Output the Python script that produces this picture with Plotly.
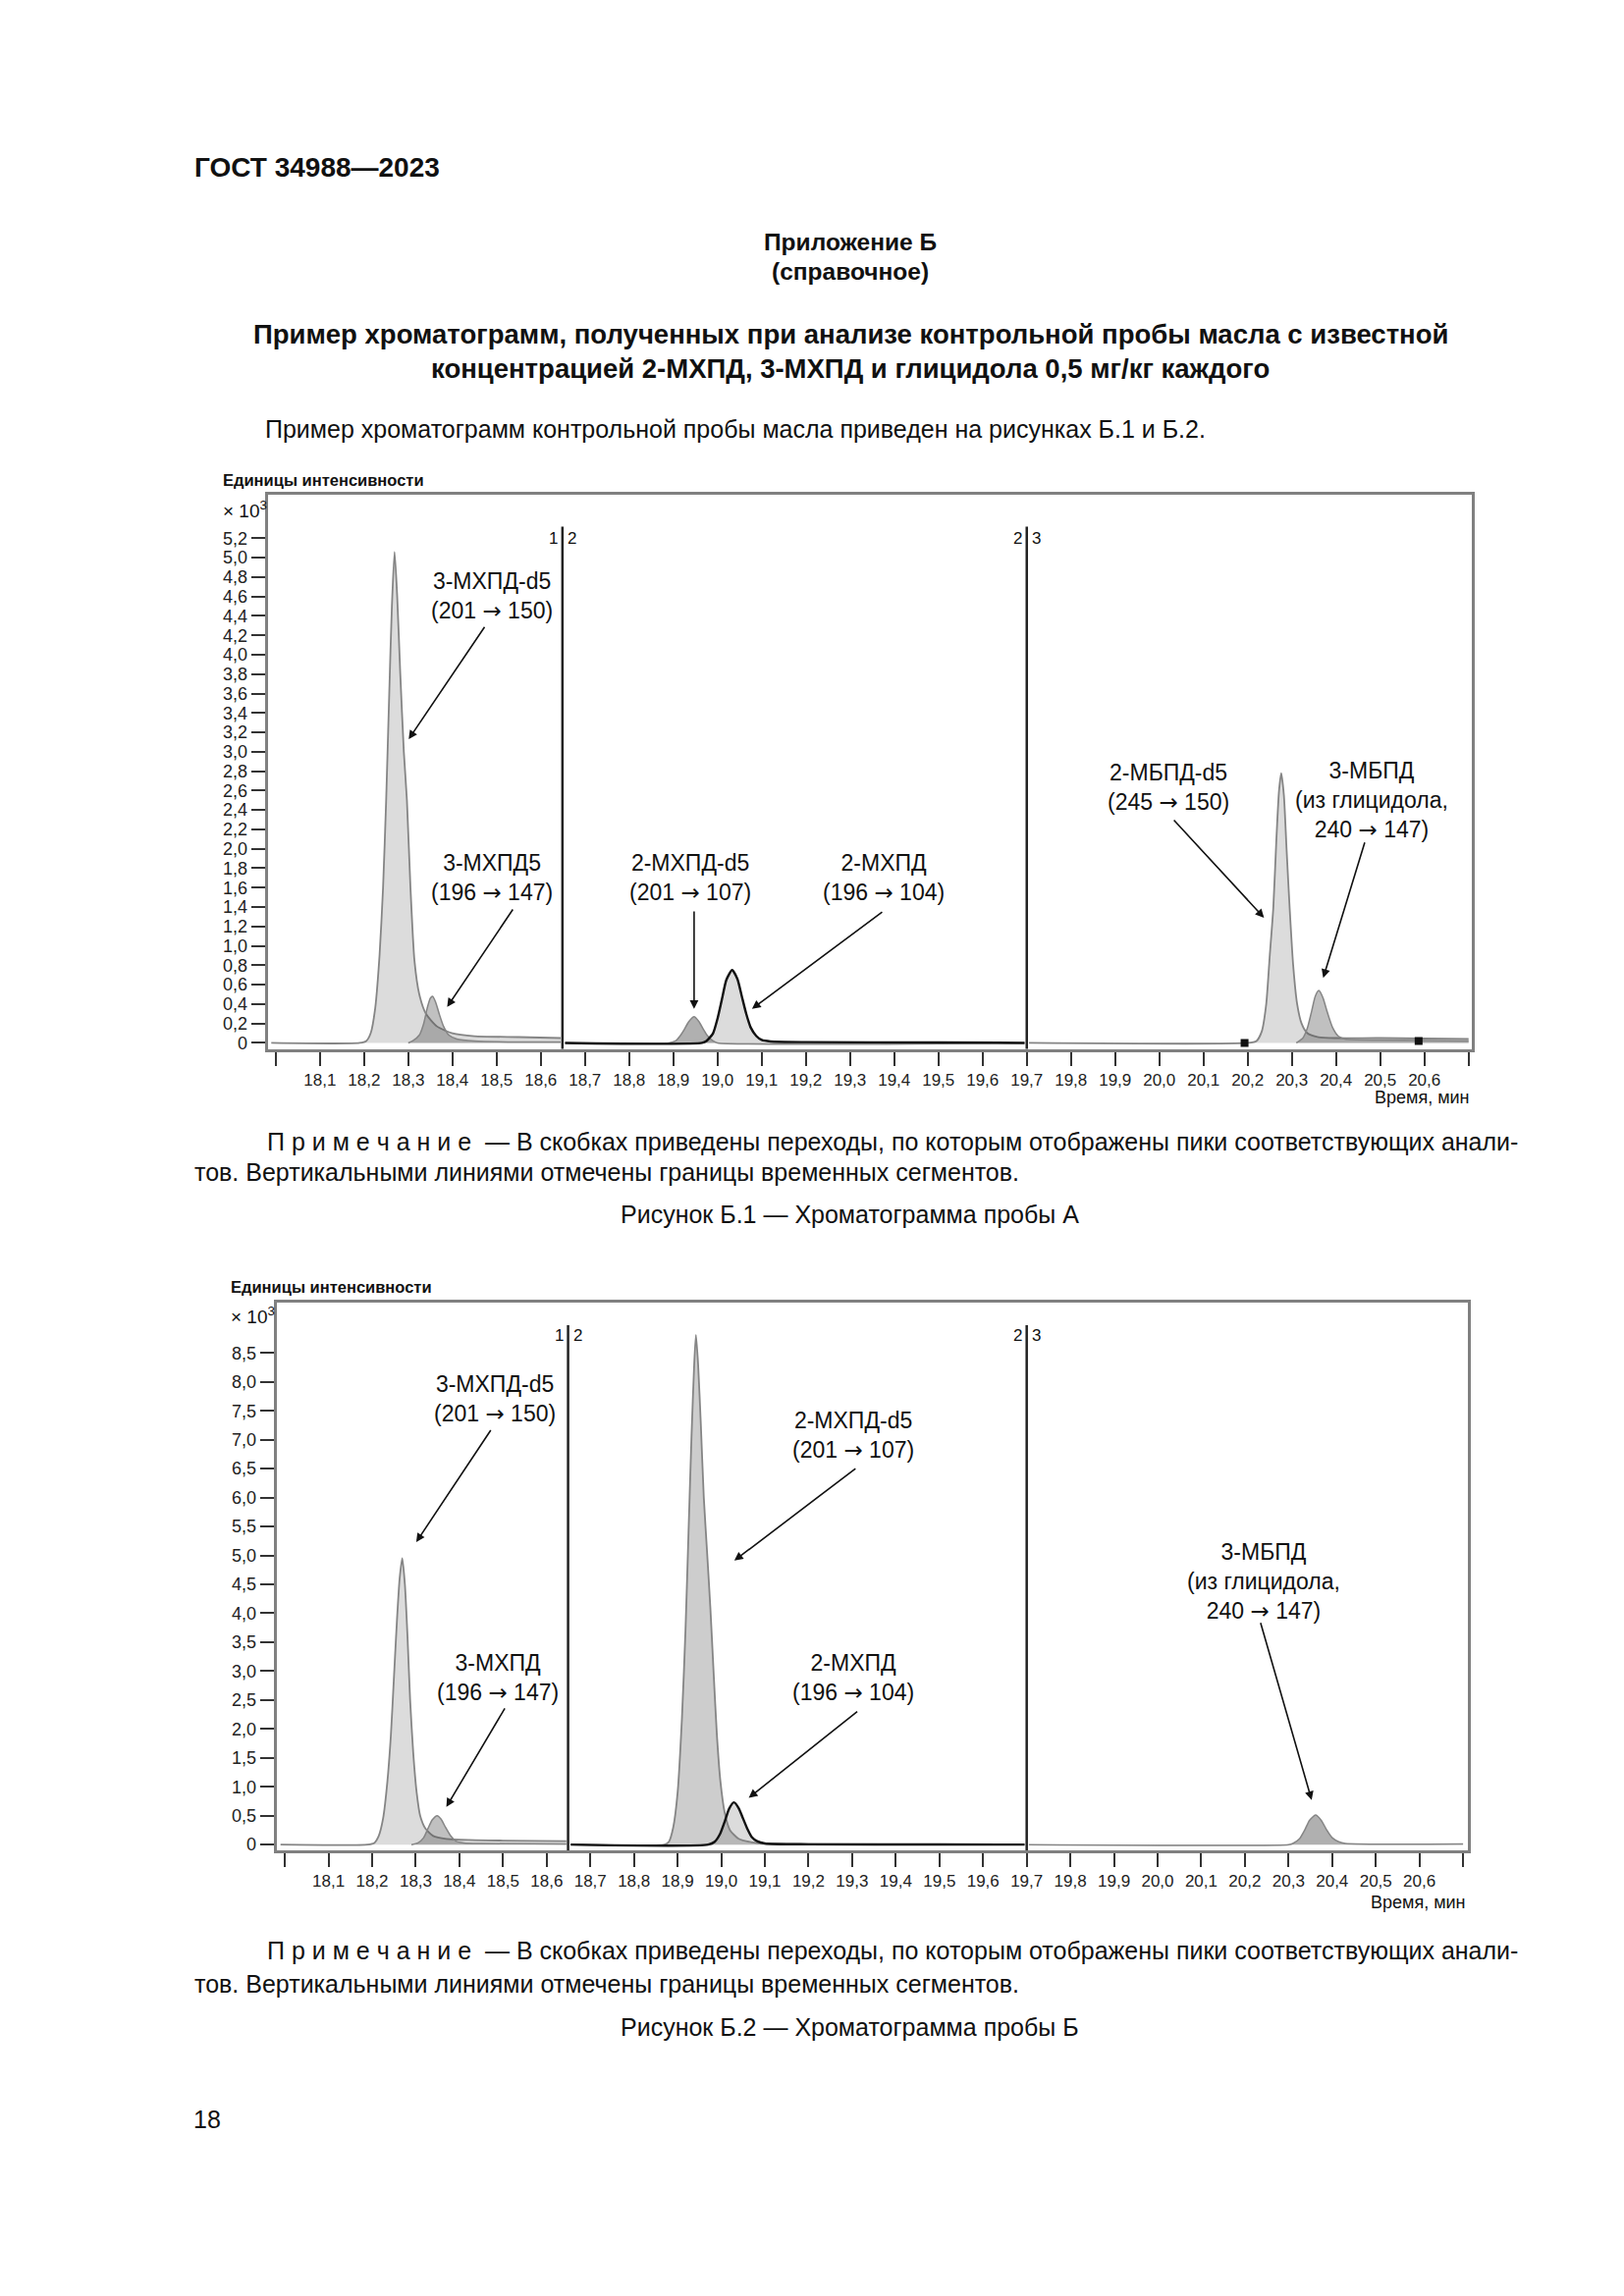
import plotly.graph_objects as go

# ---------------- DATA ----------------
# Figure B.1 (sample A) - retention time, min / intensity, x10^3
tA_3mcpd_d5 = [17.99, 18.19, 18.205, 18.215, 18.225, 18.235, 18.243, 18.250, 18.257, 18.263, 18.269,
               18.275, 18.282, 18.290, 18.297, 18.305, 18.314, 18.325, 18.340, 18.365, 18.40, 18.45, 18.55, 18.645]
iA_3mcpd_d5 = [0.0, 0.0, 0.02, 0.10, 0.35, 0.90, 1.60, 2.50, 3.60, 4.50, 5.06,
               4.60, 3.80, 3.00, 2.50, 1.60, 0.85, 0.50, 0.30, 0.17, 0.10, 0.07, 0.06, 0.05]
tA_3mcpd = [18.30, 18.31, 18.325, 18.335, 18.343, 18.350, 18.355, 18.362, 18.370, 18.380, 18.392, 18.41, 18.45, 18.55, 18.645]
iA_3mcpd = [0.0, 0.02, 0.08, 0.20, 0.36, 0.46, 0.48, 0.42, 0.30, 0.17, 0.08, 0.04, 0.02, 0.01, 0.01]
tA_2mcpd_d5 = [18.655, 18.89, 18.905, 18.915, 18.925, 18.935, 18.947, 18.958, 18.968, 18.978, 18.99, 19.00, 19.695]
iA_2mcpd_d5 = [0.0, 0.0, 0.02, 0.07, 0.14, 0.22, 0.27, 0.22, 0.14, 0.07, 0.02, 0.0, 0.0]
tA_2mcpd = [18.655, 18.965, 18.975, 18.990, 19.000, 19.010, 19.020, 19.033, 19.045, 19.055, 19.065,
            19.075, 19.088, 19.10, 19.12, 19.20, 19.50, 19.695]
iA_2mcpd = [0.0, 0.0, 0.02, 0.10, 0.25, 0.45, 0.65, 0.75, 0.66, 0.48, 0.30,
            0.16, 0.07, 0.03, 0.015, 0.008, 0.005, 0.0]
tA_2mbpd_d5 = [19.705, 20.20, 20.22, 20.232, 20.242, 20.250, 20.258, 20.265, 20.271, 20.276, 20.282,
               20.288, 20.295, 20.303, 20.312, 20.322, 20.335, 20.36, 20.40, 20.50, 20.70]
iA_2mbpd_d5 = [0.0, 0.0, 0.02, 0.12, 0.40, 0.90, 1.39, 2.10, 2.60, 2.78, 2.55,
               2.00, 1.39, 0.80, 0.40, 0.20, 0.10, 0.06, 0.05, 0.05, 0.04]
tA_3mbpd = [20.31, 20.325, 20.335, 20.345, 20.353, 20.361, 20.370, 20.380, 20.392, 20.405, 20.42, 20.50, 20.70]
iA_3mbpd = [0.0, 0.05, 0.15, 0.33, 0.48, 0.54, 0.47, 0.32, 0.16, 0.07, 0.04, 0.03, 0.02]
tA_marks = [20.193, 20.587]
iA_marks = [0.0, 0.02]

# Figure B.2 (sample B)
tB_3mcpd_d5 = [17.99, 18.19, 18.205, 18.215, 18.225, 18.235, 18.243, 18.250, 18.257, 18.263, 18.269,
               18.275, 18.281, 18.287, 18.294, 18.302, 18.310, 18.322, 18.340, 18.37, 18.42, 18.50, 18.645]
iB_3mcpd_d5 = [0.0, 0.0, 0.03, 0.15, 0.45, 1.10, 1.90, 2.90, 3.90, 4.60, 4.95,
               4.50, 3.60, 2.50, 1.60, 0.90, 0.50, 0.28, 0.15, 0.10, 0.08, 0.07, 0.06]
tB_3mcpd = [18.29, 18.305, 18.318, 18.328, 18.338, 18.349, 18.358, 18.368, 18.380, 18.392, 18.41, 18.45, 18.645]
iB_3mcpd = [0.0, 0.03, 0.12, 0.28, 0.43, 0.50, 0.44, 0.30, 0.15, 0.06, 0.03, 0.02, 0.01]
tB_2mcpd_d5 = [18.655, 18.87, 18.88, 18.89, 18.90, 18.91, 18.918, 18.925, 18.932, 18.938, 18.942,
               18.947, 18.953, 18.960, 18.968, 18.975, 18.983, 18.990, 18.998, 19.008, 19.02,
               19.04, 19.07, 19.10, 19.695]
iB_2mcpd_d5 = [0.0, 0.0, 0.05, 0.30, 0.90, 2.20, 3.70, 5.40, 7.10, 8.30, 8.81,
               8.30, 7.30, 6.00, 5.00, 4.10, 2.90, 1.90, 1.10, 0.55, 0.25,
               0.10, 0.04, 0.02, 0.0]
tB_2mcpd = [18.655, 18.97, 18.985, 18.997, 19.008, 19.018, 19.029, 19.040, 19.050, 19.060, 19.070,
            19.082, 19.10, 19.20, 19.50, 19.695]
iB_2mcpd = [0.0, 0.0, 0.05, 0.18, 0.40, 0.62, 0.73, 0.63, 0.45, 0.27, 0.13,
            0.06, 0.02, 0.005, 0.004, 0.0]
tB_3mbpd = [19.705, 20.30, 20.31, 20.325, 20.337, 20.348, 20.362, 20.375, 20.387, 20.40, 20.415, 20.43, 20.70]
iB_3mbpd = [0.0, 0.0, 0.02, 0.10, 0.25, 0.42, 0.51, 0.42, 0.26, 0.12, 0.05, 0.02, 0.01]

segment_bounds = [18.649, 19.70]
x_tick_vals = [18.0, 18.1, 18.2, 18.3, 18.4, 18.5, 18.6, 18.7, 18.8, 18.9, 19.0, 19.1, 19.2, 19.3,
               19.4, 19.5, 19.6, 19.7, 19.8, 19.9, 20.0, 20.1, 20.2, 20.3, 20.4, 20.5, 20.6, 20.7]
x_tick_text = ["", "18,1", "18,2", "18,3", "18,4", "18,5", "18,6", "18,7", "18,8", "18,9", "19,0",
               "19,1", "19,2", "19,3", "19,4", "19,5", "19,6", "19,7", "19,8", "19,9", "20,0",
               "20,1", "20,2", "20,3", "20,4", "20,5", "20,6", ""]
yA_tick_vals = [0.0, 0.2, 0.4, 0.6, 0.8, 1.0, 1.2, 1.4, 1.6, 1.8, 2.0, 2.2, 2.4, 2.6,
                2.8, 3.0, 3.2, 3.4, 3.6, 3.8, 4.0, 4.2, 4.4, 4.6, 4.8, 5.0, 5.2]
yA_tick_text = ["0", "0,2", "0,4", "0,6", "0,8", "1,0", "1,2", "1,4", "1,6", "1,8", "2,0", "2,2",
                "2,4", "2,6", "2,8", "3,0", "3,2", "3,4", "3,6", "3,8", "4,0", "4,2", "4,4",
                "4,6", "4,8", "5,0", "5,2"]
yB_tick_vals = [0.0, 0.5, 1.0, 1.5, 2.0, 2.5, 3.0, 3.5, 4.0, 4.5, 5.0, 5.5, 6.0, 6.5, 7.0, 7.5, 8.0, 8.5]
yB_tick_text = ["0", "0,5", "1,0", "1,5", "2,0", "2,5", "3,0", "3,5", "4,0", "4,5", "5,0", "5,5",
                "6,0", "6,5", "7,0", "7,5", "8,0", "8,5"]

# ---------------- LAYOUT HELPERS ----------------
W, H = 1654, 2339
OFF = 8                      # default body margin of the page
FW, FH = W - 2 * OFF, H - 2 * OFF
FONT = "Liberation Sans, Arial, sans-serif"
ARR = '<span style="font-family:DejaVu Sans">→</span>'


def fx(px):
    return (px - OFF) / FW


def fy(py):
    return 1 - (py - OFF) / FH


fig = go.Figure()

LIGHT = "rgba(128,128,128,0.28)"
MID = "rgba(80,80,80,0.36)"
MID2 = "rgba(80,80,80,0.45)"
EDGE = "#858585"


def peak(t, i, fill, line_color, lw, ax):
    fig.add_trace(go.Scatter(
        x=t, y=i, mode="lines", line=dict(color=line_color, width=lw, shape="spline", smoothing=0.6),
        fill="tozeroy", fillcolor=fill, xaxis=ax[0], yaxis=ax[1], showlegend=False, hoverinfo="skip"))


A = ("x", "y")
B = ("x2", "y2")
peak(tA_3mcpd_d5, iA_3mcpd_d5, LIGHT, EDGE, 1.8, A)
peak(tA_3mcpd, iA_3mcpd, MID, EDGE, 1.5, A)
peak(tA_2mcpd_d5, iA_2mcpd_d5, MID2, EDGE, 1.5, A)
peak(tA_2mcpd, iA_2mcpd, LIGHT, "#111111", 2.4, A)
peak(tA_2mbpd_d5, iA_2mbpd_d5, LIGHT, EDGE, 1.8, A)
peak(tA_3mbpd, iA_3mbpd, MID, EDGE, 1.5, A)
fig.add_trace(go.Scatter(x=tA_marks, y=iA_marks, mode="markers",
                         marker=dict(symbol="square", size=8, color="#111111"),
                         xaxis="x", yaxis="y", showlegend=False, hoverinfo="skip"))

peak(tB_3mcpd_d5, iB_3mcpd_d5, LIGHT, EDGE, 1.8, B)
peak(tB_3mcpd, iB_3mcpd, MID, EDGE, 1.5, B)
peak(tB_2mcpd_d5, iB_2mcpd_d5, "rgba(100,100,100,0.32)", EDGE, 1.8, B)
peak(tB_2mcpd, iB_2mcpd, LIGHT, "#111111", 2.4, B)
peak(tB_3mbpd, iB_3mbpd, MID2, EDGE, 1.5, B)

# ---------------- AXES ----------------
axis_common = dict(showgrid=False, zeroline=False, showline=True, mirror=True,
                   linecolor="#808080", linewidth=3, ticks="outside", ticklen=14,
                   tickwidth=2, tickcolor="#333333")
xfont = dict(family=FONT, size=17, color="#222222")
yfont = dict(family=FONT, size=18, color="#222222")

fig.update_layout(
    width=FW, height=FH, margin=dict(l=0, r=0, t=0, b=0),
    paper_bgcolor="white", plot_bgcolor="white", showlegend=False,
    font=dict(family=FONT, color="#111111"),
    xaxis=dict(domain=[fx(272.7), fx(1499.3)], range=[17.982, 20.708], tickfont=xfont,
               tickmode="array", tickvals=x_tick_vals, ticktext=x_tick_text, anchor="y", **axis_common),
    yaxis=dict(domain=[fy(1070.7), fy(505)], range=[-0.065, 5.647], tickfont=yfont,
               tickmode="array", tickvals=yA_tick_vals, ticktext=yA_tick_text, anchor="x", **axis_common),
    xaxis2=dict(domain=[fx(281.7), fx(1495)], range=[17.981, 20.711], tickfont=xfont,
                tickmode="array", tickvals=x_tick_vals, ticktext=x_tick_text, anchor="y2", **axis_common),
    yaxis2=dict(domain=[fy(1888.3), fy(1329.3)], range=[-0.10, 9.37], tickfont=yfont,
                tickmode="array", tickvals=yB_tick_vals, ticktext=yB_tick_text, anchor="x2", **axis_common),
)

# segment boundaries
shapes = []
for xb in segment_bounds:
    shapes.append(dict(type="line", xref="x", yref="y", x0=xb, x1=xb, y0=-0.065, y1=5.32,
                       line=dict(color="#222222", width=2.5)))
    shapes.append(dict(type="line", xref="x2", yref="y2", x0=xb, x1=xb, y0=-0.10, y1=8.98,
                       line=dict(color="#222222", width=2.5)))
fig.update_layout(shapes=shapes)

ann = []


def txt(text, x, y, size=16, xanchor="center", yanchor="middle", bold=False, xref="paper", yref="paper",
        align="center", color="#111111"):
    if bold:
        text = "<b>" + text + "</b>"
    ann.append(dict(text=text, x=x, y=y, xref=xref, yref=yref, xanchor=xanchor, yanchor=yanchor,
                    showarrow=False, align=align, font=dict(family=FONT, size=size, color=color)))


def arrow(x_head, y_head, x_tail, y_tail, xr, yr):
    ann.append(dict(text="", x=x_head, y=y_head, ax=x_tail, ay=y_tail, xref=xr, yref=yr,
                    axref=xr, ayref=yr, showarrow=True, arrowhead=2, arrowsize=1.1,
                    arrowwidth=1.6, arrowcolor="#111111", standoff=0))


# segment numbers
for (xr, yr, yl) in (("x", "y", 5.2), ("x2", "y2", 8.8)):
    for k, xb in enumerate(segment_bounds):
        ann.append(dict(text=str(k + 1), x=xb, y=yl, xref=xr, yref=yr, xanchor="right", xshift=-3,
                        showarrow=False, font=dict(family=FONT, size=17, color="#111111")))
        ann.append(dict(text=str(k + 2), x=xb, y=yl, xref=xr, yref=yr, xanchor="left", xshift=3,
                        showarrow=False, font=dict(family=FONT, size=17, color="#111111")))

# peak labels, figure B.1
LS = 23
txt(f"3-МХПД-d5<br>(201 {ARR} 150)", 18.4895, 4.604, LS, xref="x", yref="y")
arrow(18.301, 3.13, 18.475, 4.30, "x", "y")
txt(f"3-МХПД5<br>(196 {ARR} 147)", 18.4895, 1.704, LS, xref="x", yref="y")
arrow(18.388, 0.37, 18.539, 1.39, "x", "y")
txt(f"2-МХПД-d5<br>(201 {ARR} 107)", 18.938, 1.70, LS, xref="x", yref="y")
arrow(18.947, 0.35, 18.947, 1.37, "x", "y")
txt(f"2-МХПД<br>(196 {ARR} 104)", 19.376, 1.70, LS, xref="x", yref="y")
arrow(19.078, 0.35, 19.376, 1.36, "x", "y")
txt(f"2-МБПД-d5<br>(245 {ARR} 150)", 20.021, 2.635, LS, xref="x", yref="y")
arrow(20.237, 1.29, 20.030, 2.31, "x", "y")
txt(f"3-МБПД<br>(из глицидола,<br>240 {ARR} 147)", 20.480, 2.506, LS, xref="x", yref="y")
arrow(20.371, 0.67, 20.466, 2.08, "x", "y")

# peak labels, figure B.2
txt(f"3-МХПД-d5<br>(201 {ARR} 150)", 18.482, 7.707, LS, xref="x2", yref="y2")
arrow(18.301, 5.23, 18.474, 7.19, "x2", "y2")
txt(f"3-МХПД<br>(196 {ARR} 147)", 18.487, 2.886, LS, xref="x2", yref="y2")
arrow(18.370, 0.65, 18.506, 2.38, "x2", "y2")
txt(f"2-МХПД-d5<br>(201 {ARR} 107)", 19.303, 7.08, LS, xref="x2", yref="y2")
arrow(19.030, 4.91, 19.311, 6.52, "x2", "y2")
txt(f"2-МХПД<br>(196 {ARR} 104)", 19.303, 2.886, LS, xref="x2", yref="y2")
arrow(19.063, 0.81, 19.315, 2.32, "x2", "y2")
txt(f"3-МБПД<br>(из глицидола,<br>240 {ARR} 147)", 20.244, 4.554, LS, xref="x2", yref="y2")
arrow(20.353, 0.77, 20.235, 3.86, "x2", "y2")

# axis titles
txt("Единицы интенсивности", fx(225), fy(490), 16.5, xanchor="left", bold=True)
txt("× 10<sup>3</sup>", fx(225), fy(520), 19, xanchor="left")
txt("Время, мин", fx(1499), fy(1120), 18, xanchor="right")
txt("Единицы интенсивности", fx(233), fy(1313), 16.5, xanchor="left", bold=True)
txt("× 10<sup>3</sup>", fx(233), fy(1342), 19, xanchor="left")
txt("Время, мин", fx(1495), fy(1941), 18, xanchor="right")

# page texts
BODY = 25
txt("ГОСТ 34988—2023", fx(196), fy(171), 28, xanchor="left", bold=True)
txt("Приложение Б", fx(866), fy(247), 24.5, bold=True)
txt("(справочное)", fx(866), fy(277), 24.5, bold=True)
txt("Пример хроматограмм, полученных при анализе контрольной пробы масла с известной",
    fx(866), fy(341), 27.5, bold=True)
txt("концентрацией 2-МХПД, 3-МХПД и глицидола 0,5 мг/кг каждого", fx(866), fy(376), 27.5, bold=True)
txt("Пример хроматограмм контрольной пробы масла приведен на рисунках Б.1 и Б.2.",
    fx(268), fy(438), BODY, xanchor="left")

NOTE1 = ("П р и м е ч а н и е  — В скобках приведены переходы, по которым отображены пики "
         "соответствующих анали-")
NOTE2 = "тов. Вертикальными линиями отмечены границы временных сегментов."
txt(NOTE1, fx(270), fy(1165), BODY, xanchor="left")
txt(NOTE2, fx(196), fy(1196), BODY, xanchor="left")
txt("Рисунок Б.1 — Хроматограмма пробы А", fx(865), fy(1239), BODY)
txt(NOTE1, fx(270), fy(1990), BODY, xanchor="left")
txt(NOTE2, fx(196), fy(2024), BODY, xanchor="left")
txt("Рисунок Б.2 — Хроматограмма пробы Б", fx(865), fy(2069), BODY)
txt("18", fx(211), fy(2163), BODY)

fig.update_layout(annotations=ann)
fig.write_html("out.html")
